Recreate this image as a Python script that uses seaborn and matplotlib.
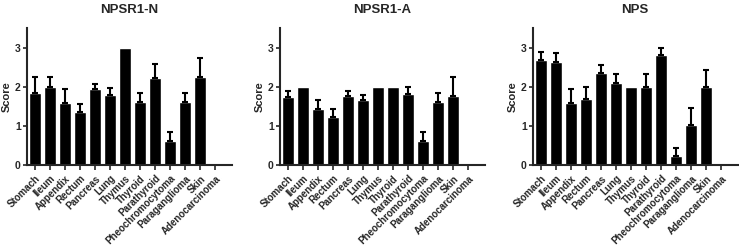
import numpy as np
import pandas as pd
import matplotlib
matplotlib.use('Agg')
import matplotlib.pyplot as plt
import seaborn as sns

# tissue categories
tissues = ['Stomach', 'Ileum', 'Appendix', 'Rectum', 'Pancreas', 'Lung', 'Thymus',
           'Thyroid', 'Parathyroid', 'Pheochromocytoma', 'Paraganglioma', 'Skin',
           'Adenocarcinoma']

# mean scores + upper error (SEM) per panel
npsr1_n_mean = [1.85, 2.0, 1.58, 1.35, 1.94, 1.79, 3.0, 1.62, 2.21, 0.62, 1.62, 2.26, 0]
npsr1_n_err = [0.40, 0.26, 0.37, 0.21, 0.13, 0.18, 0, 0.23, 0.37, 0.23, 0.23, 0.47, 0]

npsr1_a_mean = [1.73, 2.0, 1.44, 1.22, 1.77, 1.67, 2.0, 2.0, 1.82, 0.62, 1.62, 1.76, 0]
npsr1_a_err = [0.17, 0, 0.21, 0.21, 0.13, 0.12, 0, 0, 0.18, 0.23, 0.23, 0.48, 0]

nps_mean = [2.68, 2.62, 1.58, 1.68, 2.34, 2.09, 2.0, 2.0, 2.81, 0.22, 1.02, 2.0, 0]
nps_err = [0.20, 0.23, 0.37, 0.32, 0.22, 0.23, 0, 0.32, 0.19, 0.21, 0.44, 0.42, 0]

titles = ['NPSR1-N', 'NPSR1-A', 'NPS']
means = [npsr1_n_mean, npsr1_a_mean, nps_mean]
errs = [npsr1_n_err, npsr1_a_err, nps_err]

sns.set_style('ticks')
plt.rcParams['font.family'] = ['Liberation Sans', 'DejaVu Sans']
plt.rcParams['font.weight'] = 'bold'

W, H = 739, 249
fig = plt.figure(figsize=(W / 100, H / 100), dpi=100)

lefts = [27, 280, 533]
for i in range(3):
    ax = fig.add_axes([lefts[i] / W, (H - 165) / H, 205 / W, (165 - 28) / H])
    df = pd.DataFrame({'tissue': tissues, 'score': means[i]})
    sns.barplot(data=df, x='tissue', y='score', color='black', width=0.8,
                saturation=1, ax=ax, errorbar=None)
    x = np.arange(len(tissues))
    e = np.array(errs[i])
    m = np.array(means[i])
    mask = e > 0
    ax.errorbar(x[mask], m[mask], yerr=[np.zeros(mask.sum()), e[mask]],
                fmt='none', ecolor='black', elinewidth=1.5, capsize=2.5, capthick=1.5)
    ax.set_xlim(-0.55, 13.1)
    ax.set_ylim(0, 3.5)
    ax.set_yticks([0, 1, 2, 3])
    fig.text((lefts[i] + 102) / W, 1 - 10 / H, titles[i], ha='center', va='center',
             fontsize=9.5, fontweight='bold')
    ax.set_ylabel('Score', fontsize=8, fontweight='bold', labelpad=2)
    ax.set_xlabel('')
    ax.set_xticks(x)
    ax.set_xticklabels(tissues, rotation=45, ha='right', rotation_mode='anchor',
                       fontsize=7, fontweight='bold')
    ax.tick_params(axis='y', labelsize=7.5, width=1.2, length=3, pad=1.5)
    ax.tick_params(axis='x', width=1.2, length=3.5, pad=2.5)
    for s in ['left', 'bottom']:
        ax.spines[s].set_linewidth(1.5)
    sns.despine(ax=ax)

fig.savefig('out.png', dpi=100)
